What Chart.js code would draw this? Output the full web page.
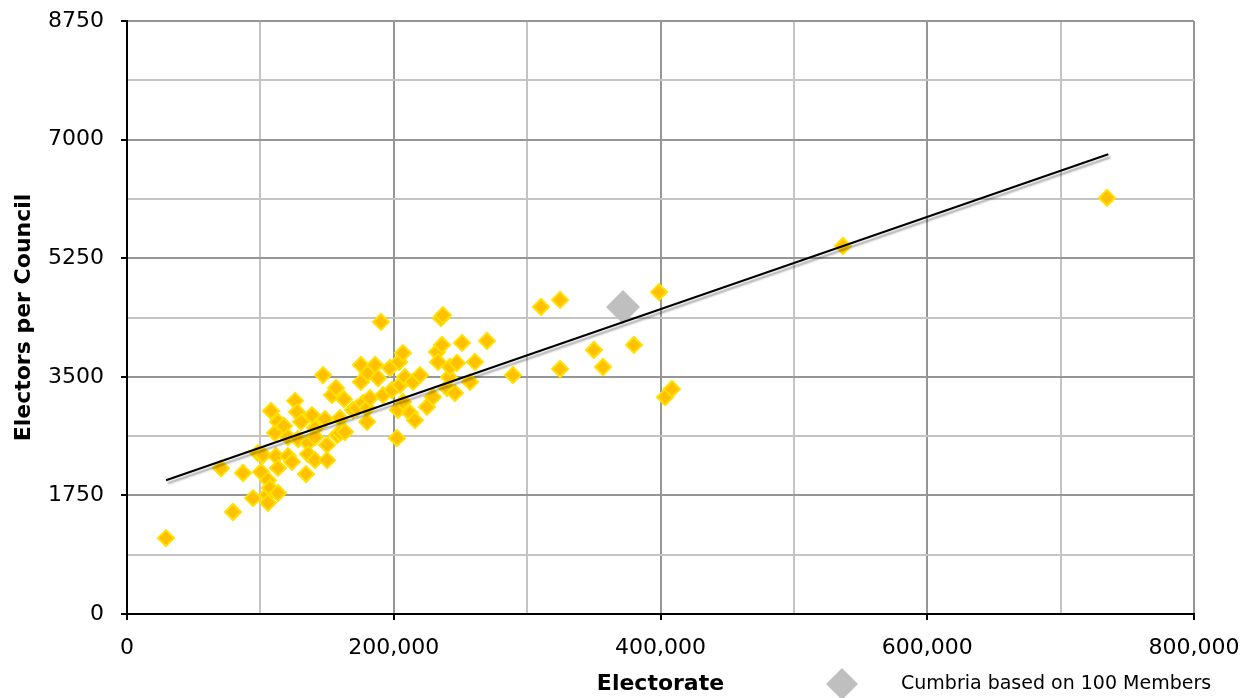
<!DOCTYPE html>
<html>
<head>
<meta charset="utf-8">
<script src="https://cdn.jsdelivr.net/npm/chart.js@4.4.1/dist/chart.umd.min.js"></script>
<style>
  html, body { margin: 0; padding: 0; background: #ffffff; }
  #wrap { width: 1254px; height: 698px; }
</style>
</head>
<body>
<div id="wrap"><canvas id="c" width="1254" height="698"></canvas></div>
<script>
// ---- data ----
const electorate = [
  29200, 70500, 79500, 87000, 94500, 98200, 100500, 102000, 105000, 105700,
  105700, 107200, 108000, 111000, 111700, 113200, 113200, 113200, 117700, 120700,
  120700, 123700, 126000, 127500, 128200, 130500, 134200, 135700, 135700, 138700,
  141000, 141000, 141000, 147000, 148500, 150000, 150000, 153700, 156700, 157500,
  159700, 159700, 162700, 163500, 169400, 172400, 175400, 175400, 177000, 180000,
  180000, 180700, 182200, 186000, 188200, 190400, 192000, 197200, 198700, 202400,
  203200, 204000, 204700, 206900, 206900, 208400, 212200, 214400, 215900, 219700,
  224900, 229400, 232400, 233200, 235400, 236900, 236200, 239900, 241400, 242200,
  245900, 247400, 251200, 257200, 260900, 269900, 289400, 310400, 324700, 324700,
  350100, 356900, 380100, 398900, 403400, 408600, 536800, 734800
];
const electorsPerCouncil = [
  1120, 2150, 1505, 2080, 1710, 2375, 2095, 2345, 1755, 1975,
  1640, 1860, 2995, 2670, 2330, 2835, 2155, 1785, 2775, 2330,
  2610, 2245, 3145, 2980, 2580, 2835, 2065, 2525, 2360, 2935,
  2745, 2610, 2270, 3525, 2875, 2495, 2270, 3230, 3335, 2640,
  2890, 2670, 3170, 2685, 3010, 3040, 3675, 3425, 3115, 3040,
  2835, 3555, 3185, 3675, 3480, 4310, 3230, 3630, 3305, 2595,
  3010, 3720, 3380, 3850, 3130, 3495, 2965, 3425, 2860, 3525,
  3055, 3200, 3865, 3720, 4365, 4410, 3970, 3335, 3495, 3645,
  3260, 3705, 4000, 3425, 3720, 4030, 3525, 4530, 4635, 3615,
  3895, 3645, 3970, 4750, 3200, 3320, 5430, 6140
];
const cumbriaElectorate = [371900];
const cumbriaPerCouncil = [4530];
const cumbriaLabel = 'Cumbria based on 100 Members';
const trendElectorate = [29240, 735750];
const trendPerCouncil = [1973, 6783];

const xTickValues = [0, 200000, 400000, 600000, 800000];
const yTickValues = [0, 1750, 3500, 5250, 7000, 8750];

// ---- build datasets ----
const toPoints = (xs, ys) => xs.map((x, i) => ({ x: x, y: ys[i] }));

const FONT = 'DejaVu Sans';

const trendShadow = {
  id: 'trendShadow',
  beforeDatasetDraw(chart, args) {
    if (chart.data.datasets[args.index]._trend) {
      const ctx = chart.ctx;
      ctx.save();
      ctx.shadowColor = 'rgba(0,0,0,0.35)';
      ctx.shadowOffsetX = 2;
      ctx.shadowOffsetY = 3;
      ctx.shadowBlur = 2;
    }
  },
  afterDatasetDraw(chart, args) {
    if (chart.data.datasets[args.index]._trend) chart.ctx.restore();
  }
};

const customLegend = {
  id: 'customLegend',
  afterDraw(chart) {
    const ctx = chart.ctx;
    const ds = chart.data.datasets.find(d => d._legend);
    const cx = 842, cy = 684, r = 16;
    ctx.save();
    ctx.fillStyle = ds.backgroundColor;
    ctx.beginPath();
    ctx.moveTo(cx, cy - r);
    ctx.lineTo(cx + r, cy);
    ctx.lineTo(cx, cy + r);
    ctx.lineTo(cx - r, cy);
    ctx.closePath();
    ctx.fill();
    ctx.fillStyle = '#000';
    ctx.font = '19px "' + FONT + '"';
    ctx.textBaseline = 'middle';
    ctx.textAlign = 'left';
    ctx.fillText(ds.label, 901, cy);
    ctx.restore();
  }
};

const majorX = v => xTickValues.includes(v);
const majorY = v => yTickValues.includes(v);

new Chart(document.getElementById('c'), {
  type: 'scatter',
  data: {
    datasets: [
      {
        _trend: true,
        type: 'line',
        label: 'Trend',
        data: toPoints(trendElectorate, trendPerCouncil),
        borderColor: '#000000',
        borderWidth: 2,
        pointRadius: 0,
        fill: false,
        order: 0
      },
      {
        _legend: true,
        label: cumbriaLabel,
        data: toPoints(cumbriaElectorate, cumbriaPerCouncil),
        pointStyle: 'rectRot',
        pointRadius: 17,
        backgroundColor: '#BFBFBF',
        borderColor: '#BFBFBF',
        borderWidth: 0,
        order: 1
      },
      {
        label: 'Councils',
        data: toPoints(electorate, electorsPerCouncil),
        pointStyle: 'rectRot',
        pointRadius: 8,
        backgroundColor: '#FFC000',
        borderColor: '#FFE000',
        borderWidth: 2,
        order: 2
      }
    ]
  },
  options: {
    responsive: false,
    animation: false,
    layout: { padding: { left: 0, right: 60, top: 21, bottom: 0 } },
    plugins: {
      legend: { display: false },
      tooltip: { enabled: false }
    },
    scales: {
      x: {
        type: 'linear',
        min: 0,
        max: 800000,
        afterFit: s => { s.height = 84; s.paddingLeft = 0; s.paddingRight = 0; },
        ticks: {
          stepSize: 100000,
          autoSkip: false,
          maxRotation: 0,
          padding: 15,
          color: '#000',
          font: { family: FONT, size: 22 },
          callback: v => majorX(v) ? v.toLocaleString('en-US') : ''
        },
        grid: {
          color: c => majorX(c.tick.value) ? '#969696' : '#C4C4C4',
          lineWidth: 2,
          tickLength: 6,
          tickWidth: 2,
          tickColor: c => majorX(c.tick.value) ? '#000' : 'rgba(0,0,0,0)'
        },
        border: { color: '#000', width: 2 },
        title: {
          display: true,
          text: 'Electorate',
          color: '#000',
          font: { family: FONT, size: 22, weight: 'bold' },
          padding: { top: 0, bottom: 1 }
        }
      },
      y: {
        type: 'linear',
        min: 0,
        max: 8750,
        afterFit: s => { s.width = 127; s.paddingTop = 0; s.paddingBottom = 0; },
        ticks: {
          stepSize: 875,
          autoSkip: false,
          padding: 17,
          color: '#000',
          font: { family: FONT, size: 22 },
          callback: v => majorY(v) ? String(v) : ''
        },
        grid: {
          color: c => majorY(c.tick.value) ? '#969696' : '#C4C4C4',
          lineWidth: 2,
          tickLength: 6,
          tickWidth: 2,
          tickColor: c => majorY(c.tick.value) ? '#000' : 'rgba(0,0,0,0)'
        },
        border: { color: '#000', width: 2 },
        title: {
          display: true,
          text: 'Electors per Council',
          color: '#000',
          font: { family: FONT, size: 22, weight: 'bold' },
          padding: { top: 11, bottom: 0 }
        }
      }
    }
  },
  plugins: [trendShadow, customLegend]
});
</script>
</body>
</html>
